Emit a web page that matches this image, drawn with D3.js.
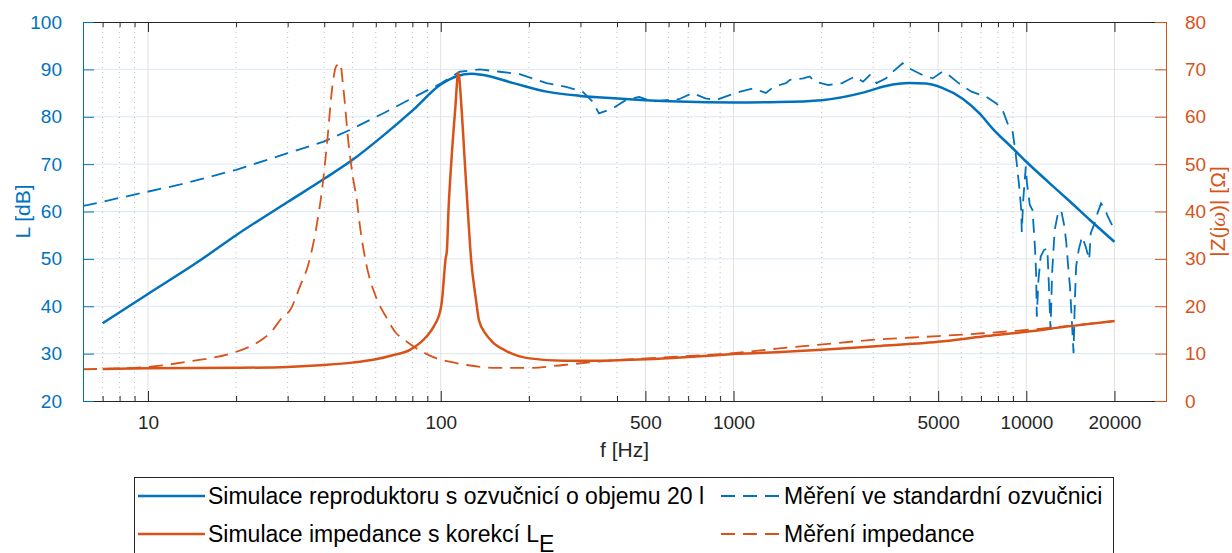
<!DOCTYPE html>
<html>
<head>
<meta charset="utf-8">
<script src="https://cdn.jsdelivr.net/npm/d3@7"></script>
<style>
  body { margin: 0; background: #fff; }
  text { font-family: "Liberation Sans", Arial, Helvetica, sans-serif; }
</style>
</head>
<body>
<div id="chart"></div>
<script>
var width = 1232,
	height = 553;

var blue = "#0072BD",
	orange = "#D95319",
	dark = "#262626";

// simulated SPL (left axis, dB)
var simFreqL = [7, 10, 15, 20, 30, 40, 50, 63, 80, 100, 114, 127, 140, 177, 230, 300, 390, 500, 650, 1000,
	1430, 2000, 2770, 3320, 3980, 4530, 5160, 6060, 6920, 7700, 9000, 10000, 12000, 14100, 16500, 20000];
var simL = [36.4, 42.6, 49.6, 55.0, 62.0, 66.9, 70.9, 75.8, 81.3, 86.8, 88.6, 89.1, 88.8, 87.1, 85.3, 84.4, 83.9, 83.5, 83.2, 83.0,
	83.1, 83.5, 85.1, 86.5, 87.1, 87.0, 86.1, 83.8, 80.7, 77.4, 73.3, 70.5, 66.0, 62.1, 58.2, 53.6];

// measured SPL (left axis, dB)
var measFreqL = [6, 6.26, 8.9, 12.9, 20, 30, 39.6, 48.9, 63.5, 82.6, 100, 116, 136, 159, 186, 230, 268, 305, 330, 347,
	388, 428, 476, 528, 588, 651, 725, 801, 870, 975, 1055, 1170, 1290, 1370, 1510, 1560, 1730, 1820, 1900, 2110,
	2350, 2470, 2600, 2770, 2920, 3080, 3320, 3500, 3780, 3980, 4420, 4790, 5160, 5430, 5870, 6500, 7300, 7900, 8300, 8630,
	8980, 9100, 9170, 9300, 9460, 9610, 9650, 9760, 9960, 10050, 10280, 10500, 10700, 10800, 10860, 11000, 11200, 11500, 11800, 11950,
	12100, 12250, 12500, 12800, 13150, 13500, 13700, 13900, 14100, 14300, 14500, 14650, 14800, 15100, 15500, 15950, 16400, 16600, 17100, 17500,
	18000, 18500, 19000, 19500, 20000];
var measL = [61.2, 61.4, 63.5, 65.7, 68.8, 72.3, 74.7, 77.2, 80.7, 84.4, 87.0, 89.5, 90.0, 89.5, 89.0, 87.1, 86.3, 85.3, 83.2, 80.7,
	81.8, 83.5, 84.2, 83.2, 83.5, 83.7, 85.0, 83.9, 83.5, 84.6, 85.3, 86.0, 85.0, 86.3, 87.1, 87.8, 88.1, 88.5, 87.4, 86.7,
	87.1, 87.8, 88.5, 87.4, 88.8, 87.1, 88.1, 89.5, 91.3, 90.2, 88.8, 88.1, 89.5, 88.8, 87.1, 85.3, 84.2, 82.8, 81.4, 78.6,
	76.8, 74.4, 73.0, 69.5, 65.2, 60.3, 55.7, 62.4, 69.5, 66.0, 61.4, 60.3, 52.6, 47.0, 37.8, 45.5, 50.5, 51.9, 52.2, 44.1,
	35.0, 47.0, 56.1, 59.3, 60.3, 56.8, 53.3, 48.4, 44.1, 37.1, 30.1, 41.3, 48.4, 51.9, 54.7, 52.6, 49.8, 55.4, 57.5, 59.6,
	61.7, 60.7, 58.9, 57.5, 56.1];

// simulated impedance (right axis, ohm)
var simFreqZ = [7, 10, 20, 30, 40, 50, 60, 69, 78.5, 89.4, 94.6, 100, 101, 103.8, 105, 106.3, 108.8, 112, 114.8,
	117.9, 120.7, 123.7, 127, 132, 135, 143, 150, 167, 201, 262, 340, 505, 745, 1000, 1500, 2000, 2980, 5000, 7100, 10000, 13700, 20000];
var simZ = [6.75, 6.9, 7.0, 7.2, 7.6, 8.1, 8.8, 9.7, 10.8, 13.6, 15.7, 19.5, 21.3, 29.8, 31.9, 40.3, 50.9, 61.4, 69.3,
	61.4, 50.9, 40.3, 29.8, 21.3, 17.1, 14.0, 12.5, 10.6, 9.0, 8.5, 8.5, 8.8, 9.4, 9.9, 10.4, 10.8, 11.5, 12.5, 13.6, 14.6, 15.7, 16.9];

// measured impedance (right axis, ohm)
var measFreqZ = [6, 10, 13.6, 19.6, 22.3, 24.8, 26.1, 28.9, 30.6, 33, 35.4, 37.8, 39.3, 41, 42.5, 43.9, 45.3, 46.5, 48.5,
	50.1, 51.7, 53, 55.3, 60.5, 65, 70.5, 74, 82.7, 100, 107, 122.6, 155, 201, 262, 340, 505, 654, 1000, 1433, 1976,
	2980, 5000, 7100, 10000, 13700, 20000];
var measZ = [6.7, 7.2, 8.3, 10.2, 11.5, 13.2, 14.3, 17.8, 19.2, 24.1, 29.1, 37.5, 44.5, 55.1, 65.6, 70.6, 71.3, 66.0, 54.0,
	47.3, 42.4, 36.8, 29.8, 21.5, 17.8, 14.3, 13.2, 11.1, 8.7, 8.3, 7.6, 7.0, 7.0, 7.6, 8.3, 9.0, 9.4, 10.1, 11.1, 11.9,
	12.9, 13.7, 14.3, 15.0, 15.8, 16.9];

var majorTicks = [10, 100, 500, 1000, 5000, 10000, 20000];
var minorTicks = [7, 8, 9, 20, 30, 40, 50, 60, 70, 80, 90, 200, 300, 400, 600, 700, 800, 900,
	2000, 3000, 4000, 6000, 7000, 8000, 9000];
var leftTicks = [20, 30, 40, 50, 60, 70, 80, 90, 100];
var rightTicks = [0, 10, 20, 30, 40, 50, 60, 70, 80];

var legendLabels = ["Simulace reproduktoru s ozvučnicí o objemu 20 l", "Měření ve standardní ozvučnici",
	"Simulace impedance s korekcí L", "Měření impedance"];

var plotLeft = 83, plotRight = 1166, plotTop = 22, plotBottom = 401;

var x = d3.scaleLog().domain([6, 30000]).range([plotLeft, plotRight]);
var yL = d3.scaleLinear().domain([20, 100]).range([plotBottom, plotTop]);
var yR = d3.scaleLinear().domain([0, 80]).range([plotBottom, plotTop]);

var svg = d3.select("#chart")
	.append("svg")
		.attr("width", width)
		.attr("height", height)
		.style("display", "block");

svg.append("clipPath").attr("id", "clip")
	.append("rect")
		.attr("x", plotLeft).attr("y", plotTop)
		.attr("width", plotRight - plotLeft).attr("height", plotBottom - plotTop);

// grid
var grid = svg.append("g");
grid.selectAll(".hg")
	.data(leftTicks.slice(1, -1))
	.enter().append("line")
		.attr("x1", plotLeft).attr("x2", plotRight)
		.attr("y1", function(d){ return yL(d); })
		.attr("y2", function(d){ return yL(d); })
		.attr("stroke", "#dce8f3");
grid.selectAll(".vg")
	.data(majorTicks)
	.enter().append("line")
		.attr("x1", function(d){ return x(d); })
		.attr("x2", function(d){ return x(d); })
		.attr("y1", plotTop).attr("y2", plotBottom)
		.attr("stroke", "#e0e0e0");
grid.selectAll(".vm")
	.data(minorTicks)
	.enter().append("line")
		.attr("x1", function(d){ return x(d); })
		.attr("x2", function(d){ return x(d); })
		.attr("y1", plotTop).attr("y2", plotBottom)
		.attr("stroke", "#bdbdbd")
		.attr("stroke-dasharray", "1,4");

// curves
var lineL = d3.line()
	.x(function(d){ return x(d[0]); })
	.y(function(d){ return yL(d[1]); });
var lineR = d3.line()
	.x(function(d){ return x(d[0]); })
	.y(function(d){ return yR(d[1]); });

function pairs(fs, vs){
	return fs.map(function(f, i){ return [f, vs[i]]; });
}

var plot = svg.append("g").attr("clip-path", "url(#clip)");

plot.append("path")
	.attr("d", lineL.curve(d3.curveMonotoneX)(pairs(simFreqL, simL)))
	.attr("fill", "none").attr("stroke", blue).attr("stroke-width", 2.5);
plot.append("path")
	.attr("d", lineL.curve(d3.curveLinear)(pairs(measFreqL, measL)))
	.attr("fill", "none").attr("stroke", blue).attr("stroke-width", 1.8)
	.attr("stroke-dasharray", "14,8");
plot.append("path")
	.attr("d", lineR.curve(d3.curveMonotoneX)(pairs(simFreqZ, simZ)))
	.attr("fill", "none").attr("stroke", orange).attr("stroke-width", 2.5);
plot.append("path")
	.attr("d", lineR.curve(d3.curveMonotoneX)(pairs(measFreqZ, measZ)))
	.attr("fill", "none").attr("stroke", orange).attr("stroke-width", 1.8)
	.attr("stroke-dasharray", "14,8");

// axes
function styleAxis(g, color){
	g.select(".domain").attr("stroke", color);
	g.selectAll(".tick line").attr("stroke", color);
	g.selectAll(".tick text").attr("fill", color)
		.style("font-size", "19px")
		.style("font-family", "'Liberation Sans', Arial, Helvetica, sans-serif");
}

var xBottom = svg.append("g").attr("transform", "translate(0," + plotBottom + ")")
	.call(d3.axisBottom(x).tickValues(majorTicks).tickSize(-10).tickSizeOuter(0).tickPadding(15)
		.tickFormat(d3.format("d")));
styleAxis(xBottom, dark);
var xBottomMinor = svg.append("g").attr("transform", "translate(0," + plotBottom + ")")
	.call(d3.axisBottom(x).tickValues(minorTicks).tickSize(-5).tickSizeOuter(0).tickFormat(""));
styleAxis(xBottomMinor, dark);
var xTop = svg.append("g").attr("transform", "translate(0," + plotTop + ")")
	.call(d3.axisTop(x).tickValues(majorTicks).tickSize(-10).tickSizeOuter(0).tickFormat(""));
styleAxis(xTop, dark);
var xTopMinor = svg.append("g").attr("transform", "translate(0," + plotTop + ")")
	.call(d3.axisTop(x).tickValues(minorTicks).tickSize(-5).tickSizeOuter(0).tickFormat(""));
styleAxis(xTopMinor, dark);

var yLeft = svg.append("g").attr("transform", "translate(" + plotLeft + ",0)")
	.call(d3.axisLeft(yL).tickValues(leftTicks).tickSize(-11).tickSizeOuter(0).tickPadding(21));
styleAxis(yLeft, blue);
var yRight = svg.append("g").attr("transform", "translate(" + plotRight + ",0)")
	.call(d3.axisRight(yR).tickValues(rightTicks).tickSize(-11).tickSizeOuter(0).tickPadding(19));
styleAxis(yRight, orange);

// axis labels
svg.append("text")
	.attr("x", (plotLeft + plotRight) / 2).attr("y", 457)
	.attr("text-anchor", "middle").attr("fill", dark)
	.style("font-size", "21px")
	.text("f [Hz]");
svg.append("text")
	.attr("transform", "translate(23," + (plotTop + plotBottom) / 2 + ") rotate(-90)")
	.attr("dy", "0.35em")
	.attr("text-anchor", "middle").attr("fill", blue)
	.style("font-size", "21px")
	.text("L [dB]");
var zLabel = svg.append("text")
	.attr("transform", "translate(1218," + (plotTop + plotBottom) / 2 + ") rotate(-90)")
	.attr("dy", "0.35em")
	.attr("text-anchor", "middle").attr("fill", orange)
	.style("font-size", "21px");
zLabel.append("tspan").text("|Z(j");
zLabel.append("tspan").style("font-style", "italic").style("font-family", "'Liberation Serif', serif").text("ω");
zLabel.append("tspan").text(")| [Ω]");

// legend
var legend = svg.append("g");
legend.append("rect")
	.attr("x", 134.5).attr("y", 477.5)
	.attr("width", 979).attr("height", 90)
	.attr("fill", "#fff").attr("stroke", dark).attr("stroke-width", 1);

var legendItems = [
	{ label: legendLabels[0], color: blue, dash: null, x: 138, y: 496 },
	{ label: legendLabels[1], color: blue, dash: "14,8", x: 721, y: 496 },
	{ label: legendLabels[2], color: orange, dash: null, x: 138, y: 534 },
	{ label: legendLabels[3], color: orange, dash: "14,8", x: 721, y: 534 }
];

legendItems.forEach(function(item, i){
	var g = legend.append("g");
	var len = item.dash ? 60 : 67;
	g.append("line")
		.attr("x1", item.x).attr("x2", item.x + len)
		.attr("y1", item.y).attr("y2", item.y)
		.attr("stroke", item.color)
		.attr("stroke-width", item.dash ? 1.8 : 2.5)
		.attr("stroke-dasharray", item.dash);
	var t = g.append("text")
		.attr("x", item.x + len + 3).attr("y", item.y + 8)
		.attr("fill", "#000")
		.style("font-size", "23px")
		.text(item.label);
	if (i === 2) {
		t.append("tspan").attr("dy", 10).text("E");
	}
});
</script>
</body>
</html>
